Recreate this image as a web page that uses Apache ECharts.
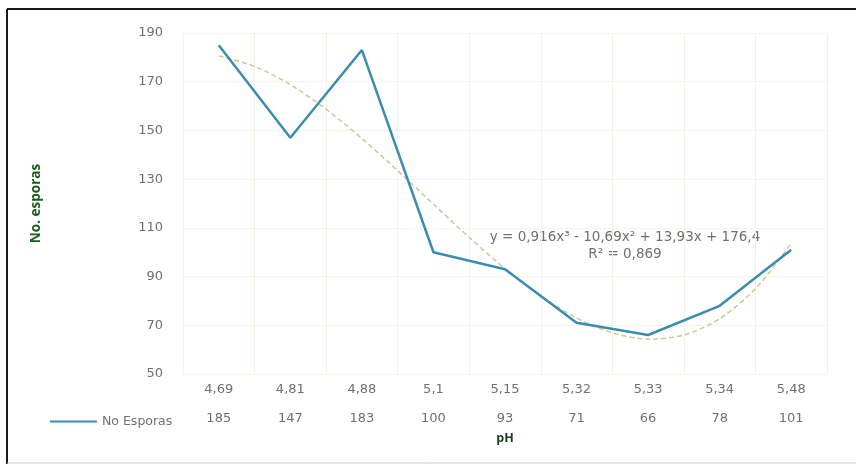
<!DOCTYPE html>
<html>
<head>
<meta charset="utf-8">
<script src="https://cdn.jsdelivr.net/npm/echarts@6/dist/echarts.min.js"></script>
<style>html,body{margin:0;padding:0;background:#fff}#c{width:856px;height:469px}</style>
</head>
<body>
<div id="c"></div>
<script>
const categories = ['4,69','4,81','4,88','5,1','5,15','5,32','5,33','5,34','5,48'];
const esporas = [185,147,183,100,93,71,66,78,101];
// trendline at half-category steps (position 1 = first category)
const trendPos = [1,1.5,2,2.5,3,3.5,4,4.5,5,5.5,6,6.5,7,7.5,8,8.5,9];
const trendValues = [180.6,176.3,168.8,158.7,146.7,133.5,119.7,106.1,93.3,82.1,73.0,66.9,64.3,66.0,72.7,85.0,103.7];
const yTicks = [50,70,90,110,130,150,170,190];
const seriesName = 'No Esporas';
const trendLabel1 = 'y = 0,916x\u00B3 - 10,69x\u00B2 + 13,93x + 176,4';
const trendLabel2 = 'R\u00B2 = 0,869';

const chart = echarts.init(document.getElementById('c'), null, {renderer:'canvas'});
const font = '"Open Sans", "DejaVu Sans", sans-serif';
const lightFont = '"DejaVu Sans", sans-serif';
const labelColor = '#707070';
chart.setOption({
  animation:false,
  backgroundColor:'#fff',
  grid:{left:183,right:29,top:33,bottom:95},
  legend:{
    data:[{name:seriesName,icon:'rect'}],
    left:45, top:410, itemWidth:47, itemHeight:2, itemGap:5,
    textStyle:{color:labelColor,fontSize:12.5,fontFamily:lightFont}
  },
  xAxis:[{
    type:'category', data:categories, boundaryGap:true,
    name:'pH', nameLocation:'middle', nameGap:58,
    nameTextStyle:{color:'#1c3a1c',fontWeight:'bold',fontSize:12.5,fontFamily:font},
    axisLine:{show:false}, axisTick:{show:false},
    splitLine:{show:true,lineStyle:{color:'#f2f2e6',width:1}},
    axisLabel:{
      margin:1, interval:0,
      formatter:(v,i)=>'{a|'+v+'}\n{a|'+esporas[i]+'}',
      rich:{a:{color:labelColor,fontSize:13,fontFamily:lightFont,lineHeight:29,align:'center'}}
    }
  },{
    type:'value', min:0.5, max:categories.length+0.5, show:false
  }],
  yAxis:{
    type:'value', min:yTicks[0], max:yTicks[yTicks.length-1], interval:yTicks[1]-yTicks[0],
    name:'No. esporas', nameLocation:'middle', nameGap:140,
    nameTextStyle:{color:'#1e5c1e',fontWeight:'bold',fontSize:13.5,fontFamily:font},
    axisLine:{show:false}, axisTick:{show:false},
    splitLine:{show:true,lineStyle:{color:'#f4f4ea',width:1}},
    axisLabel:{color:labelColor,fontSize:13,fontFamily:lightFont,margin:20}
  },
  series:[
    {
      name:seriesName, type:'line', data:esporas, symbol:'none',
      lineStyle:{color:'#3a8db0',width:2.5}, itemStyle:{color:'#3a8db0'}, z:3
    },
    {
      name:'trend', type:'line', xAxisIndex:1, data:trendPos.map((p,i)=>[p,trendValues[i]]),
      symbol:'none', smooth:0.3,
      lineStyle:{color:'#cfc69a',width:1.5,type:[5,3]}, z:2
    }
  ],
  graphic:[
    {type:'line',shape:{x1:7,y1:9,x2:856,y2:9},style:{stroke:'#1a1a1a',lineWidth:2}},
    {type:'line',shape:{x1:7,y1:9,x2:7,y2:464},style:{stroke:'#1a1a1a',lineWidth:2}},
    {type:'line',shape:{x1:7,y1:463,x2:856,y2:463},style:{stroke:'#cccccc',lineWidth:1}},
    {type:'text',style:{text:trendLabel1,fill:labelColor,font:'13.5px '+lightFont,textAlign:'center',textVerticalAlign:'middle',x:625,y:237}},
    {type:'text',style:{text:trendLabel2,fill:labelColor,font:'13.5px '+lightFont,textAlign:'center',textVerticalAlign:'middle',x:625,y:254}}
  ]
});
</script>
</body>
</html>
